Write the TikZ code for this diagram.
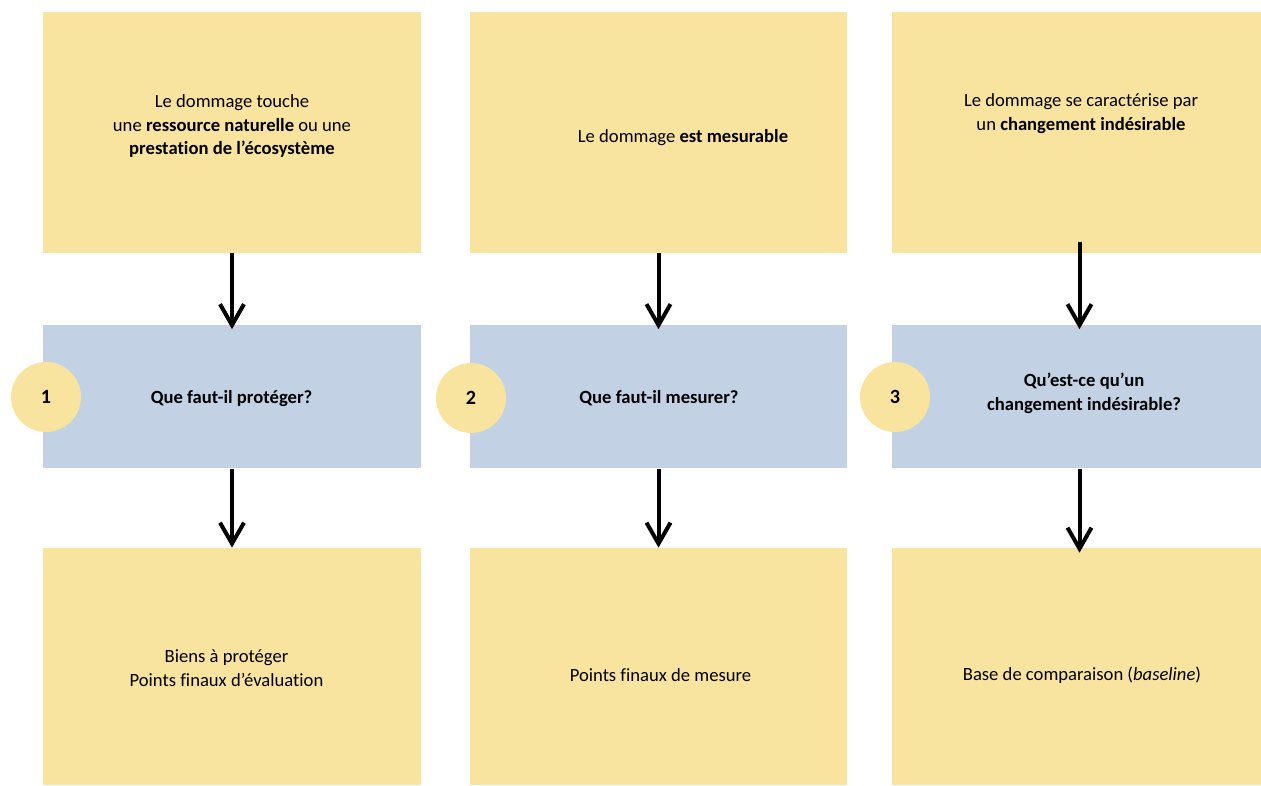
\documentclass[tikz,border=0pt]{standalone}
\usepackage{fontspec}
\setmainfont{Carlito}[Ligatures=NoCommon]
\usetikzlibrary{arrows.meta}
\definecolor{sable}{HTML}{F8E49E}
\definecolor{ciel}{HTML}{C2D1E3}
\tikzstyle{topbox}=[rectangle,fill=sable,minimum width=7.56cm,minimum height=4.82cm,inner sep=0pt]
\tikzstyle{midbox}=[rectangle,fill=ciel,minimum width=7.56cm,minimum height=2.88cm,inner sep=0pt]
\tikzstyle{botbox}=[rectangle,fill=sable,minimum width=7.56cm,minimum height=4.74cm,inner sep=0pt]
\tikzstyle{numero}=[circle,fill=sable,minimum size=1.4cm,inner sep=0pt,font=\fontsize{11.5}{13.6}\selectfont\bfseries]
\tikzstyle{texte}=[align=center,inner sep=0pt,font=\fontsize{10.6}{13.6}\selectfont]
\tikzstyle{question}=[texte,font=\fontsize{10.6}{13.6}\selectfont\bfseries]
\tikzstyle{edge}=[draw,line width=0.08cm,-{Straight Barb[length=0.42cm,width=0.48cm]}]

\begin{document}
\begin{tikzpicture}[x=0.02cm,y=-0.02cm]
    \useasboundingbox (0,0) rectangle (1261,785);
        \node[topbox] (T1) at (232,132.5) {};
        \node[topbox] (T2) at (658.5,132.5) {};
        \node[topbox,minimum width=7.38cm] (T3) at (1076.5,132.5) {};
        \node[midbox] (M1) at (232,396.5) {};
        \node[midbox] (M2) at (658.5,396.5) {};
        \node[midbox,minimum width=7.38cm] (M3) at (1076.5,396.5) {};
        \node[botbox] (B1) at (232,666.5) {};
        \node[botbox] (B2) at (658.5,666.5) {};
        \node[botbox,minimum width=7.38cm] (B3) at (1076.5,666.5) {};
        \node[numero] (N1) at (46,397) {1};
        \node[numero] (N2) at (471,398) {2};
        \node[numero] (N3) at (895,397) {3};
        \node[texte] (t1) at (232,126) {Le dommage touche\\une \textbf{ressource naturelle} ou une\\\textbf{prestation de l’écosystème}};
        \node[texte] (t2) at (683,138) {Le dommage \textbf{est mesurable}};
        \node[texte] (t3) at (1081,113.5) {Le dommage se caractérise par\\un \textbf{changement indésirable}};
        \node[question] (q1) at (231.5,399) {Que faut-il protéger?};
        \node[question] (q2) at (659,398) {Que faut-il mesurer?};
        \node[question] (q3) at (1084,393) {Qu’est-ce qu’un\\changement indésirable?};
        \node[texte] (r1) at (226.5,668) {Biens à protéger\\Points finaux d’évaluation};
        \node[texte] (r2) at (660.5,675) {Points finaux de mesure};
        \node[texte] (r3) at (1082,675) {Base de comparaison (\textit{baseline})};
        \path[edge] (T1.south) -- ([yshift=-5*0.02cm]M1.north);
        \path[edge] (T2.south) -- ([yshift=-5*0.02cm]M2.north);
        \path[edge] ([xshift=3*0.02cm,yshift=11*0.02cm]T3.south) -- ([xshift=3*0.02cm,yshift=-5*0.02cm]M3.north);
        \path[edge] (M1.south) -- (B1.north);
        \path[edge] (M2.south) -- (B2.north);
        \path[edge] ([xshift=3*0.02cm]M3.south) -- ([xshift=3*0.02cm,yshift=-5*0.02cm]B3.north);
\end{tikzpicture}
\end{document}
